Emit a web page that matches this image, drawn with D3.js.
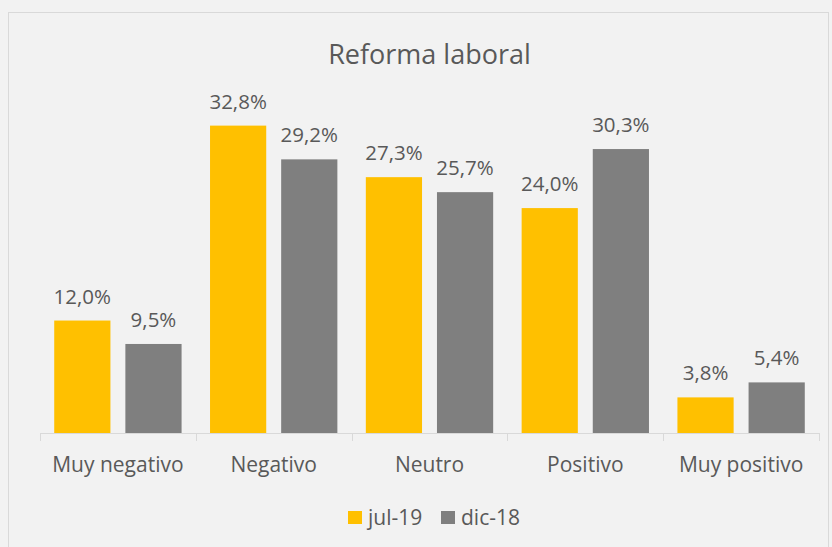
<!DOCTYPE html>
<html>
<head>
<meta charset="utf-8">
<script src="https://cdn.jsdelivr.net/npm/d3@7"></script>
<style>
  body { margin: 0; background: #f2f2f2; }
  svg { display: block; font-family: "Open Sans", sans-serif; }
</style>
</head>
<body>
<svg id="chart" width="832" height="547"></svg>
<script>
// Data
const categories = ["Muy negativo", "Negativo", "Neutro", "Positivo", "Muy positivo"];
const seriesNames = ["jul-19", "dic-18"];
const jul19 = [12.0, 32.8, 27.3, 24.0, 3.8];
const dic18 = [9.5, 29.2, 25.7, 30.3, 5.4];
const seriesColors = ["#ffc000", "#7f7f7f"];

const width = 832;
const height = 547;
const plot = { left: 40, right: 819, top: 105, bottom: 433 };
const textColor = "#595959";

const svg = d3.select("#chart");

// chart area frame
svg.append("rect")
  .attr("x", 8.5).attr("y", 12.5)
  .attr("width", 820).attr("height", 540)
  .attr("fill", "#f2f2f2")
  .attr("stroke", "#d9d9d9");

// scales
const x = d3.scaleBand().domain(categories).range([plot.left, plot.right]);
const xInner = d3.scaleBand().domain(seriesNames).range([0, x.bandwidth()])
  .paddingInner(0.21).paddingOuter(0.2);
const y = d3.scaleLinear().domain([0, 35]).range([plot.bottom, plot.top]);
const color = d3.scaleOrdinal().domain(seriesNames).range(seriesColors);

const rows = categories.map((c, i) => ({
  cat: c,
  values: [
    { series: "jul-19", value: jul19[i] },
    { series: "dic-18", value: dic18[i] }
  ]
}));

const fmt = v => d3.format(".1f")(v).replace(".", ",") + "%";

// title
svg.append("text")
  .attr("x", (plot.left + plot.right) / 2)
  .attr("y", 64)
  .attr("text-anchor", "middle")
  .attr("fill", textColor)
  .attr("font-size", 27)
  .text("Reforma laboral");

// bars
const groups = svg.selectAll("g.cat")
  .data(rows)
  .join("g")
  .attr("class", "cat")
  .attr("transform", d => `translate(${x(d.cat)},0)`);

groups.selectAll("rect")
  .data(d => d.values)
  .join("rect")
  .attr("x", d => xInner(d.series))
  .attr("y", d => y(d.value))
  .attr("width", xInner.bandwidth())
  .attr("height", d => y(0) - y(d.value))
  .attr("fill", d => color(d.series));

groups.selectAll("text.val")
  .data(d => d.values)
  .join("text")
  .attr("class", "val")
  .attr("x", d => xInner(d.series) + xInner.bandwidth() / 2)
  .attr("y", d => y(d.value) - 17)
  .attr("text-anchor", "middle")
  .attr("fill", textColor)
  .attr("font-size", 20.5)
  .text(d => fmt(d.value));

// x axis
const axis = svg.append("g")
  .attr("transform", `translate(0,${plot.bottom})`)
  .call(d3.axisBottom(x).tickSize(0).tickPadding(24));
axis.select(".domain").attr("stroke", "#d9d9d9").attr("d", `M${plot.left},0.5H${plot.right}`);
axis.selectAll("text").attr("fill", textColor).attr("font-size", 21)
  .attr("font-family", "Open Sans, sans-serif");

// category boundary ticks
const bounds = categories.map(c => x(c)).concat([plot.right]);
axis.selectAll("line.bound")
  .data(bounds)
  .join("line")
  .attr("class", "bound")
  .attr("x1", d => Math.round(d) + 0.5).attr("x2", d => Math.round(d) + 0.5)
  .attr("y1", 0).attr("y2", 8)
  .attr("stroke", "#d9d9d9");

// legend
const legendItems = [
  { name: "jul-19", x: 348 },
  { name: "dic-18", x: 441 }
];
const legend = svg.append("g");
legend.selectAll("rect")
  .data(legendItems)
  .join("rect")
  .attr("x", d => d.x).attr("y", 511)
  .attr("width", 14).attr("height", 13)
  .attr("fill", d => color(d.name));
legend.selectAll("text")
  .data(legendItems)
  .join("text")
  .attr("x", d => d.x + 20).attr("y", 525)
  .attr("fill", textColor)
  .attr("font-size", 21)
  .text(d => d.name);
</script>
</body>
</html>
